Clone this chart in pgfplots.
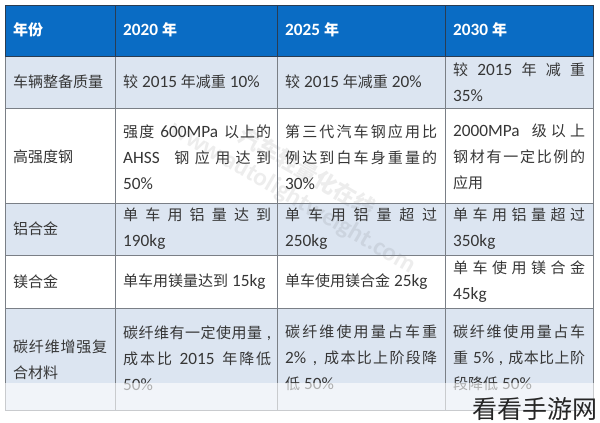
\documentclass[border=0pt]{standalone}
\usepackage{pgfplots}
\pgfplotsset{compat=1.18}
\usepackage{fontspec}
\setmainfont{Carlito}[Scale=1.15]
\newfontfamily\cjk{Noto Sans CJK SC}
\newXeTeXintercharclass\cjkcls
\count255="3000
\loop \XeTeXcharclass\count255=\cjkcls \ifnum\count255<"303F \advance\count255 by 1 \repeat
\count255="4E00
\loop \XeTeXcharclass\count255=\cjkcls \ifnum\count255<"9FFF \advance\count255 by 1 \repeat
\count255="FF00
\loop \XeTeXcharclass\count255=\cjkcls \ifnum\count255<"FFEF \advance\count255 by 1 \repeat
\XeTeXinterchartoks 0 \cjkcls = {\cjk}
\XeTeXinterchartoks 4095 \cjkcls = {\cjk}
\XeTeXinterchartoks \cjkcls 0 = {\rmfamily}
\XeTeXinterchartoks \cjkcls 4095 = {\rmfamily}
\XeTeXinterchartokenstate=1
\XeTeXlinebreaklocale "zh"
\XeTeXlinebreakskip=0pt plus 1pt
\definecolor{hdr}{HTML}{0A6CC4}
\definecolor{rowb}{HTML}{DCE5F1}
\definecolor{txt}{HTML}{363636}
\definecolor{lnd}{HTML}{2A3C52}
\definecolor{lng}{HTML}{7A7F86}
\newcommand\cell[4]{\node[anchor=west, inner sep=0pt, text width=#2pt, align=justify, font=\fontsize{15}{26}\selectfont, text=txt] at (axis cs:#1,#3) {#4};}
\newcommand\hcell[3]{\node[anchor=west, inner sep=0pt, font=\fontsize{15}{26}\selectfont\bfseries, text=white] at (axis cs:#1,#2) {#3};}
\begin{document}
\begin{tikzpicture}
\begin{axis}[hide axis, scale only axis, width=600pt, height=423pt,
  xmin=0, xmax=600, ymin=0, ymax=423, y dir=reverse, clip=false]
\path (axis cs:0,0) rectangle (axis cs:600,423);
% backgrounds
\fill[hdr] (axis cs:5,5) rectangle (axis cs:593,56);
\fill[rowb] (axis cs:5,56) rectangle (axis cs:593,108);
\fill[white] (axis cs:5,108) rectangle (axis cs:593,203);
\fill[rowb] (axis cs:5,203) rectangle (axis cs:593,255);
\fill[white] (axis cs:5,255) rectangle (axis cs:593,308);
\fill[rowb] (axis cs:5,308) rectangle (axis cs:593,410);
% faint watermark
\node[rotate=-30, opacity=0.07, text=black, font=\fontsize{22}{28}\selectfont\bfseries, align=center] at (axis cs:300,185) {汽车轻量化在线\\www.autolightweight.com};
% grid lines
\draw[lng, line width=1pt] (axis cs:5,108) -- (axis cs:593,108);
\draw[lng, line width=1pt] (axis cs:5,203) -- (axis cs:593,203);
\draw[lng, line width=1pt] (axis cs:5,255) -- (axis cs:593,255);
\draw[lng, line width=1pt] (axis cs:5,308) -- (axis cs:593,308);
\draw[lng, line width=1pt] (axis cs:5,56) -- (axis cs:5,410) -- (axis cs:593,410) -- (axis cs:593,56);
\draw[lng, line width=1pt] (axis cs:115,56) -- (axis cs:115,410);
\draw[lng, line width=1pt] (axis cs:277,56) -- (axis cs:277,410);
\draw[lng, line width=1pt] (axis cs:445,56) -- (axis cs:445,410);
\draw[lnd, line width=1pt] (axis cs:115,5) -- (axis cs:115,56);
\draw[lnd, line width=1pt] (axis cs:277,5) -- (axis cs:277,56);
\draw[lnd, line width=1pt] (axis cs:445,5) -- (axis cs:445,56);
\draw[lnd, line width=1pt] (axis cs:5,5) rectangle (axis cs:593,56);
% header
\hcell{13}{30}{年份}
\hcell{123}{30}{2020 年}
\hcell{285}{30}{2025 年}
\hcell{453}{30}{2030 年}
% row 1
\cell{13}{94}{82}{车辆整备质量}
\cell{123}{148}{82}{较 2015 年减重 10\%}
\cell{285}{152}{82}{较 2015 年减重 20\%}
\cell{453}{132}{82}{较 2015 年 减 重\linebreak 35\%}
% row 2
\cell{13}{94}{157}{高强度钢}
\cell{123}{148}{157}{强度 600MPa 以上的\linebreak AHSS 钢应用达到\linebreak 50\%}
\cell{285}{152}{157}{第三代汽车钢应用比\linebreak 例达到白车身重量的\linebreak 30\%}
\cell{453}{132}{157}{2000MPa 级以上\linebreak 钢材有一定比例的\linebreak 应用}
% row 3
\cell{13}{94}{229}{铝合金}
\cell{123}{148}{229}{单车用铝量达到\linebreak 190kg}
\cell{285}{152}{229}{单车用铝量超过\linebreak 250kg}
\cell{453}{132}{229}{单车用铝量超过\linebreak 350kg}
% row 4
\cell{13}{94}{282}{镁合金}
\cell{123}{148}{282}{单车用镁量达到 15kg}
\cell{285}{152}{282}{单车使用镁合金 25kg}
\cell{453}{132}{282}{单车使用镁合金\linebreak 45kg}
% row 5
\cell{13}{94}{360}{碳纤维增强复\linebreak 合材料}
\cell{123}{148}{358}{碳纤维有一定使用量 ,\linebreak 成本比 2015 年降低\linebreak 50\%}
\cell{285}{152}{358}{碳纤维使用量占车重\linebreak 2\% , 成本比上阶段降\linebreak 低 50\%}
\cell{453}{132}{358}{碳纤维使用量占车\linebreak 重 5\% , 成本比上阶\linebreak 段降低 50\%}
% fade overlay at bottom
\fill[white, opacity=0.6] (axis cs:0,383) rectangle (axis cs:600,423);
% site watermark
\node[anchor=base east, inner sep=0pt, font=\fontsize{25}{28}\selectfont, text=black!85] at (axis cs:598,418) {看看手游网};
\end{axis}
\end{tikzpicture}
\end{document}
